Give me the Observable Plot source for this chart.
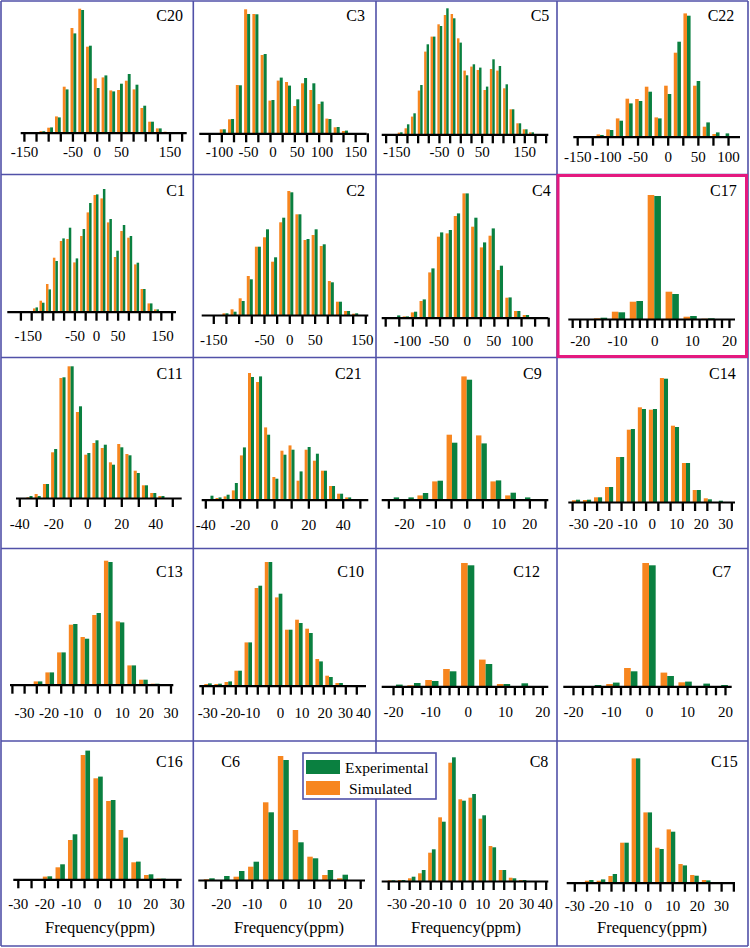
<!DOCTYPE html>
<html lang="en">
<head>
<meta charset="UTF-8">
<title>Chemical shift histograms</title>
<script src="https://cdn.jsdelivr.net/npm/d3@7"></script>
<script src="https://cdn.jsdelivr.net/npm/@observablehq/plot@0.6"></script>
<style>
  body { margin: 0; background: white; }
  #board { position: relative; width: 750px; height: 948px; font-family: "Liberation Serif", serif; }
  .cell { position: absolute; }
  #overlay { position: absolute; left: 0; top: 0; pointer-events: none; }
</style>
</head>
<body>
<div id="board"></div>
<script>
const ORANGE = "#f7861f", GREEN = "#0a8040", GRID = "#5151a8", PINK = "#e4197f";
const FONT = "Liberation Serif";
const LABEL_SIZE = 15;

// ---- data : bin centres (ppm), simulated / experimental frequency, axis ticks & labels ----
// (xxxLabelAt = where the figure actually prints a label, when it is not right on its value)
const c20Bins = [-112,-96,-80,-64,-48,-32,-16,0,16,32,48,64,80,96,112,128,144];
const c20Sim = [1.5,5,16.3,46,104.7,124,86,54.3,55.3,42.3,42.7,52,43.3,24.7,11,4.3,1];
const c20Exp = [1.5,5.3,15.3,43.3,99.3,122.7,87,44.7,57.3,41.3,49,58.7,48,27,11,4.3,0.7];
const c20Ticks = [-150,-125,-100,-75,-50,-25,0,25,50,75,100,125,150,175];
const c20Labels = [-150,-50,0,50,150];

const c3Bins = [-97,-80,-64,-47,-30,-13,3,20,37,54,70,87,104,120,137,154];
const c3Sim = [4,14,48.3,124,119.3,78.3,32.7,52.7,51.3,27.3,50,43.3,29.3,14.7,6,2.3];
const c3Exp = [4,14.3,48,119.3,119,79.3,33.3,55.7,47.7,34,55.3,50,31.7,14.3,6.3,2.7];
const c3Ticks = [-125,-100,-75,-50,-25,0,25,50,75,100,125,150,175,200];
const c3Labels = [-100,-50,0,50,100,150];
const c3LabelAt = [-105,-45,5,55,106,175];

const c5Bins = [-141,-125,-110,-94,-79,-64,-48,-33,-17,-2,13,29,44,60,75,90,106,121,137,152,167];
const c5Sim = [1.7,6,17.7,43.7,82.7,97.7,110,119.3,120.3,96,63.7,67.7,64.3,44.3,65.3,63.7,46,25,11,5,2];
const c5Exp = [2,10,21,49.3,90,97.7,108.3,126,116,91.7,59,70,66.7,47.7,75,68.3,50,25,11,5,2];
const c5Ticks = [-175,-150,-125,-100,-75,-50,-25,0,25,50,75,100,125,150,175,200];
const c5Labels = [-150,-50,0,50,150];

const c22Bins = [-112,-96,-80,-64,-48,-32,-16,0,16,32,48,64,80,96];
const c22Sim = [2.3,7.3,18.3,38,37.7,50,19.3,51,84,123.3,51,10,2.7,0];
const c22Exp = [1.7,6.7,16,33.3,35.7,45,18.3,42.7,95,121,55.7,14.3,4.3,3.3];
const c22Ticks = [-150,-125,-100,-75,-50,-25,0,25,50,75,100];
const c22Labels = [-150,-100,-50,0,50,100];

const c1Bins = [-156,-140,-125,-110,-94,-78,-63,-47,-31,-16,0,16,31,47,62,78,94,109,125,140,156];
const c1Sim = [0.7,3.3,11,27.7,54,70.7,72.7,49.3,75.7,99.3,116.7,113.3,89.3,54.7,80.7,74,47.3,22.7,8.3,2.3,0.7];
const c1Exp = [0.7,4.3,9,22.3,50.7,73.3,84,53.3,82.7,108.7,117.3,122.7,92.7,61,86.7,75.7,49,22.7,8.3,2.3,0.7];
const c1Ticks = [-175,-150,-125,-100,-75,-50,-25,0,25,50,75,100,125,150,175];
const c1Labels = [-150,-50,0,50,150];
const c1LabelAt = [-158,-50,0,50,153];

const c2Bins = [-126,-110,-94,-78,-62,-46,-30,-14,2,18,34,50,66,82,98,114,130];
const c2Sim = [1.7,5.7,16.7,39,68.3,77.7,53.3,92.7,124,100.7,75,80,69,34,13.3,4,1.3];
const c2Exp = [1.7,3.3,14,35.7,68.3,85.7,57.7,97.3,122.7,100.7,76,85.7,70.7,32.7,13.3,4,1.7];
const c2Ticks = [-150,-125,-100,-75,-50,-25,0,25,50,75,100,125,150];
const c2Labels = [-150,-50,0,50,150];
const c2LabelAt = [-150,-50,0,50,143];

const c4Bins = [-128,-112,-97,-81,-65,-49,-33,-18,-2,14,30,46,61,77,93,109];
const c4Sim = [0.7,1.3,5.3,16.7,45.3,81,84.3,101.7,124.3,91,70.3,82,47.7,20,6.7,2.7];
const c4Exp = [2.3,1.3,6,18.3,49.3,85.3,87.7,104.3,124.3,100,75.3,89.3,52,20.3,6.7,2.7];
const c4Ticks = [-150,-125,-100,-75,-50,-25,0,25,50,75,100,125,150];
const c4Labels = [-100,-50,0,50,100];
const c4LabelAt = [-110,-52,0,49,101];

const c17Bins = [-14.4,-9.6,-4.8,0,4.8,9.6,14.4];
const c17Sim = [0.7,7.3,17.3,124,27.3,2.3,0.3];
const c17Exp = [1.3,6.7,18,123,25,3,0.7];
const c17Ticks = [-22,-20,-18,-16,-14,-12,-10,-8,-6,-4,-2,0,2,4,6,8,10,12,14,16,18,20];
const c17Labels = [-20,-10,0,10,20];

const c11Bins = [-34,-29.2,-24.3,-19.5,-14.6,-9.8,-4.9,0,4.8,9.7,14.5,19.4,24.2,29.1,33.9,38.8,43.6];
const c11Sim = [0.7,4,14,45.7,120,131.7,86,43.3,55,50,35.7,54,44,27.3,12.7,5,2];
const c11Exp = [2,2,14,49,120.7,131.7,91.7,45,57.7,53.3,33.3,50.7,42.7,25,12.7,5,2];
const c11Ticks = [-40,-30,-20,-10,0,10,20,30,40,50];
const c11Labels = [-40,-20,0,20,40];

const c21Bins = [-37,-32.3,-27.6,-22.8,-18.1,-13.4,-8.7,-4,0.8,5.5,10.2,14.9,19.6,24.4,29.1,33.8,38.5,43.2];
const c21Sim = [0,1.7,3.3,9.3,44.3,126.7,117.7,72.3,22.7,49,54.3,19,50,39,29,13.7,6,2.3];
const c21Exp = [4,2.3,5,16.7,52.3,122.7,123.3,65,21,45,50,28.3,52.7,46,29,13.7,6,2.3];
const c21Ticks = [-40,-30,-20,-10,0,10,20,30,40,50];
const c21Labels = [-40,-20,0,20,40];

const c9Bins = [-23.3,-18.6,-14,-9.3,-4.7,0,4.7,9.3,14,18.6];
const c9Sim = [0.7,0.7,4.3,18.3,65,123.3,64.3,18.3,4.3,0];
const c9Exp = [2.3,2.3,6.7,19,57,120,56.3,19.3,7,2.3];
const c9Ticks = [-25,-20,-15,-10,-5,0,5,10,15,20,25];
const c9Labels = [-20,-10,0,10,20];

const c14Bins = [-30.9,-26.4,-21.9,-17.4,-12.9,-8.5,-4,0.5,5,9.5,14,18.4,22.9,27.4];
const c14Sim = [1.7,2,4.7,15,45,72.3,94.7,92.3,124,76.3,39,12,3.7,0];
const c14Exp = [2.3,2.3,4.7,15,45,73,93,93,123.3,75,39,12,2.7,1.3];
const c14Ticks = [-32.5,-27.5,-22.5,-17.5,-12.5,-7.5,-2.5,2.5,7.5,12.5,17.5,22.5,27.5,32.5];
const c14Labels = [-30,-20,-10,0,10,20,30];

const c13Bins = [-24.3,-19.5,-14.7,-9.9,-5.1,-0.3,4.5,9.3,14.1,18.9,23.7];
const c13Sim = [3.3,12.3,32.3,60,47.7,69.7,124,63.3,19.3,5,1];
const c13Exp = [3.3,12.3,32.3,60.7,46,71.7,122.7,62.3,19.3,5,1];
const c13Ticks = [-35,-30,-25,-20,-15,-10,-5,0,5,10,15,20,25,30];
const c13Labels = [-30,-20,-10,0,10,20,30];

const c10Bins = [-32.4,-27.8,-23.2,-18.7,-14.1,-9.5,-4.9,-0.3,4.3,8.9,13.5,18.1,22.6,27.2];
const c10Sim = [1.7,1.7,3.7,15,43.3,97.7,123.7,88.3,56,66,57,26.7,10,2.7];
const c10Exp = [2.3,2,4.3,15,43.3,100,123.7,92,56,62.7,52.7,24.3,8.7,2.7];
const c10Ticks = [-35,-30,-25,-20,-15,-10,-5,0,5,10,15,20,25,30,35];
const c10Labels = [-30,-20,-10,0,10,20,30,40];
const c10LabelAt = [-32.7,-22.4,-13.4,0.3,10.1,20.5,29.9,38];

const c12Bins = [-19.2,-14.4,-9.6,-4.8,0,4.8,9.6,14.4];
const c12Sim = [0,1,6.3,17.3,123.3,26.7,2.3,0];
const c12Exp = [1.7,3.3,5.3,15,121,22.3,2.3,3];
const c12Ticks = [-20,-17.5,-15,-12.5,-10,-7.5,-5,-2.5,0,2.5,5,7.5,10,12.5,15,17.5,20];
const c12Labels = [-20,-10,0,10,20];

const c7Bins = [-19,-14.3,-9.5,-4.8,0,4.8,9.5,14.3,19];
const c7Sim = [0.3,0.3,2.3,18.3,123.3,13.7,4,0,0];
const c7Exp = [0.3,1.3,3.7,15,121,10.3,4.7,2.7,1.3];
const c7Ticks = [-20,-17.5,-15,-12.5,-10,-7.5,-5,-2.5,0,2.5,5,7.5,10,12.5,15,17.5,20];
const c7Labels = [-20,-10,0,10,20];

const c16Bins = [-18.8,-14,-9.3,-4.5,0.3,5.1,9.8,14.6,19.4,24.1];
const c16Sim = [2.7,12,39.3,124.3,101,78.3,49.3,17,4.3,0.7];
const c16Exp = [3,15,45,128.7,102.7,79.3,41.7,17.7,5,0.7];
const c16Ticks = [-30,-25,-20,-15,-10,-5,0,5,10,15,20,25,30];
const c16Labels = [-30,-20,-10,0,10,20,30];

const c6Bins = [-23.7,-18.9,-14.1,-9.4,-4.6,0.2,5,9.7,14.5,19.3];
const c6Sim = [0.7,0,3.3,13.3,77.7,124,50,23.3,5,1.7];
const c6Exp = [1.7,4,9,18.3,67.7,120,37.7,21.7,10,5.3];
const c6Ticks = [-25,-20,-15,-10,-5,0,5,10,15,20,25];
const c6Labels = [-20,-10,0,10,20];

const c8Bins = [-33.4,-28.6,-23.8,-19,-14.2,-9.4,-4.6,0.2,5,9.8,14.6,19.4,24.2,29];
const c8Sim = [0.7,1,2.7,7.7,28.3,63.7,118.3,81.7,83.3,62.3,35,11,3.3,1];
const c8Exp = [0.7,1,4.3,11,31.7,59.3,123.7,80.3,87,65.7,33.7,11,2.7,1];
const c8Ticks = [-35,-30,-25,-20,-15,-10,-5,0,5,10,15,20,25,30,35,40];
const c8Labels = [-30,-20,-10,0,10,20,30,40];
const c8LabelAt = [-31,-20,-9.5,0.3,9.8,21,30.7,39.5];

const c15Bins = [-23.9,-19.1,-14.3,-9.5,-4.8,0,4.8,9.5,14.3,19.1,23.9];
const c15Sim = [2,2,6.7,40,124.3,70.3,35,53.3,18.7,7.7,2.7];
const c15Exp = [2.7,3.3,8.7,40,124.3,70.3,33.7,51,17.3,7,2.3];
const c15Ticks = [-30,-25,-20,-15,-10,-5,0,5,10,15,20,25,30,35];
const c15Labels = [-30,-20,-10,0,10,20,30];

const panels = [
  {name: "C20", col: 0, row: 0, bins: c20Bins, sim: c20Sim, exp: c20Exp, ticks: c20Ticks, labels: c20Labels},
  {name: "C3",  col: 1, row: 0, bins: c3Bins,  sim: c3Sim,  exp: c3Exp,  ticks: c3Ticks,  labels: c3Labels, labelAt: c3LabelAt},
  {name: "C5",  col: 2, row: 0, bins: c5Bins,  sim: c5Sim,  exp: c5Exp,  ticks: c5Ticks,  labels: c5Labels},
  {name: "C22", col: 3, row: 0, bins: c22Bins, sim: c22Sim, exp: c22Exp, ticks: c22Ticks, labels: c22Labels},
  {name: "C1",  col: 0, row: 1, bins: c1Bins,  sim: c1Sim,  exp: c1Exp,  ticks: c1Ticks,  labels: c1Labels, labelAt: c1LabelAt},
  {name: "C2",  col: 1, row: 1, bins: c2Bins,  sim: c2Sim,  exp: c2Exp,  ticks: c2Ticks,  labels: c2Labels, labelAt: c2LabelAt},
  {name: "C4",  col: 2, row: 1, bins: c4Bins,  sim: c4Sim,  exp: c4Exp,  ticks: c4Ticks,  labels: c4Labels, labelAt: c4LabelAt},
  {name: "C17", col: 3, row: 1, bins: c17Bins, sim: c17Sim, exp: c17Exp, ticks: c17Ticks, labels: c17Labels},
  {name: "C11", col: 0, row: 2, bins: c11Bins, sim: c11Sim, exp: c11Exp, ticks: c11Ticks, labels: c11Labels},
  {name: "C21", col: 1, row: 2, bins: c21Bins, sim: c21Sim, exp: c21Exp, ticks: c21Ticks, labels: c21Labels},
  {name: "C9",  col: 2, row: 2, bins: c9Bins,  sim: c9Sim,  exp: c9Exp,  ticks: c9Ticks,  labels: c9Labels},
  {name: "C14", col: 3, row: 2, bins: c14Bins, sim: c14Sim, exp: c14Exp, ticks: c14Ticks, labels: c14Labels},
  {name: "C13", col: 0, row: 3, bins: c13Bins, sim: c13Sim, exp: c13Exp, ticks: c13Ticks, labels: c13Labels},
  {name: "C10", col: 1, row: 3, bins: c10Bins, sim: c10Sim, exp: c10Exp, ticks: c10Ticks, labels: c10Labels, labelAt: c10LabelAt},
  {name: "C12", col: 2, row: 3, bins: c12Bins, sim: c12Sim, exp: c12Exp, ticks: c12Ticks, labels: c12Labels},
  {name: "C7",  col: 3, row: 3, bins: c7Bins,  sim: c7Sim,  exp: c7Exp,  ticks: c7Ticks,  labels: c7Labels},
  {name: "C16", col: 0, row: 4, bins: c16Bins, sim: c16Sim, exp: c16Exp, ticks: c16Ticks, labels: c16Labels},
  {name: "C6",  col: 1, row: 4, bins: c6Bins,  sim: c6Sim,  exp: c6Exp,  ticks: c6Ticks,  labels: c6Labels},
  {name: "C8",  col: 2, row: 4, bins: c8Bins,  sim: c8Sim,  exp: c8Exp,  ticks: c8Ticks,  labels: c8Labels, labelAt: c8LabelAt},
  {name: "C15", col: 3, row: 4, bins: c15Bins, sim: c15Sim, exp: c15Exp, ticks: c15Ticks, labels: c15Labels}
];

// ---- layout (px inside each cell): x0 = where 0 ppm sits, k = px per ppm,
// xl/xr = ends of the baseline, by = baseline, lo = label offset, tx/ty = title anchor
const frames = {
  C20: {x0: 96.7, k: 0.4853, xl: 20.7, xr: 186.7, by: 132.7, lo: 24,   tx: 183,   ty: 21},
  C3:  {x0: 77,   k: 0.4867, xl: 6.3,  xr: 173.7, by: 133.3, lo: 23.4, tx: 172,   ty: 21},
  C5:  {x0: 84.3, k: 0.4267, xl: 5.7,  xr: 172.3, by: 134.3, lo: 22.4, tx: 173.3, ty: 21},
  C22: {x0: 110.7,k: 0.6033, xl: 16.3, xr: 183,   by: 136.7, lo: 25,   tx: 177.3, ty: 21},
  C1:  {x0: 96,   k: 0.432,  xl: 7.3,  xr: 176,   by: 136.7, lo: 29,   tx: 185,   ty: 20.7},
  C2:  {x0: 96.3, k: 0.5067, xl: 8.7,  xr: 175.3, by: 140,   lo: 29,   tx: 172,   ty: 20.7},
  C4:  {x0: 90.7, k: 0.5433, xl: 5.7,  xr: 172.3, by: 142.7, lo: 27.3, tx: 174.7, ty: 20.7},
  C17: {x0: 97.3, k: 3.733,  xl: 11.3, xr: 178,   by: 144,   lo: 26,   tx: 179.7, ty: 20.7},
  C11: {x0: 87.3, k: 1.7,    xl: 16,   xr: 181.7, by: 140,   lo: 30,   tx: 182.7, ty: 21},
  C21: {x0: 81,   k: 1.717,  xl: 8.7,  xr: 175.3, by: 141.7, lo: 30,   tx: 168.7, ty: 21},
  C9:  {x0: 90.7, k: 3.133,  xl: 5.7,  xr: 172.3, by: 141.7, lo: 28.3, tx: 165.7, ty: 21},
  C14: {x0: 94.7, k: 2.45,   xl: 11.3, xr: 178,   by: 144,   lo: 26.7, tx: 178.7, ty: 21},
  C13: {x0: 97.3, k: 2.44,   xl: 10,   xr: 173.3, by: 135.7, lo: 32.6, tx: 182.7, ty: 28},
  C10: {x0: 86.3, k: 2.2,    xl: 6.3,  xr: 173,   by: 136.7, lo: 31.6, tx: 171,   ty: 28},
  C12: {x0: 91.7, k: 3.733,  xl: 5.7,  xr: 172.3, by: 137.3, lo: 30,   tx: 164,   ty: 28},
  C7:  {x0: 92,   k: 3.8,    xl: 6.3,  xr: 174.7, by: 137.3, lo: 30,   tx: 174,   ty: 28},
  C16: {x0: 97.3, k: 2.65,   xl: 13.3, xr: 181.7, by: 138.3, lo: 29,   tx: 182.7, ty: 25.7, fx: 100},
  C6:  {x0: 89.7, k: 3.1,    xl: 5.3,  xr: 172,   by: 139,   lo: 28.3, tx: 47,    ty: 25.7, fx: 96},
  C8:  {x0: 85.7, k: 2.1,    xl: 5.7,  xr: 172.3, by: 140,   lo: 27.3, tx: 172.3, ty: 25.7, fx: 90},
  C15: {x0: 90.7, k: 2.447,  xl: 9.7,  xr: 178,   by: 141.7, lo: 27.3, tx: 180.7, ty: 25.7, fx: 95}
};

const colX = [0, 193, 376, 557, 748];
const rowY = [0, 175, 358, 549, 741, 946];

const board = document.querySelector("#board");

for (const p of panels) {
  const f = frames[p.name];
  const W = colX[p.col + 1] - colX[p.col];
  const H = rowY[p.row + 1] - rowY[p.row];
  const n = p.bins.length;
  const half = 0.37 * (p.bins[n - 1] - p.bins[0]) / (n - 1);
  const rows = p.bins.map((c, i) => ({c, sim: p.sim[i], exp: p.exp[i]}));
  const at = p.labelAt || p.labels;
  const labelRows = p.labels.map((v, i) => ({v, at: at[i]}));

  const plot = Plot.plot({
    width: W,
    height: H,
    marginLeft: f.xl,
    marginRight: W - f.xr,
    marginTop: 0,
    marginBottom: H - f.by,
    x: {domain: [(f.xl - f.x0) / f.k, (f.xr - f.x0) / f.k]},
    y: {domain: [0, f.by], axis: null},
    style: {fontFamily: FONT, fontSize: LABEL_SIZE + "px", color: "black", overflow: "visible", background: "transparent"},
    marks: [
      // orange (simulated) on the left half of each bin, green (experimental) on the right
      Plot.rect(rows, {x1: d => d.c - half, x2: d => d.c, y1: 0, y2: "sim", fill: ORANGE}),
      Plot.rect(rows, {x1: d => d.c, x2: d => d.c + half, y1: 0, y2: "exp", fill: GREEN}),
      Plot.ruleY([0], {stroke: "black", strokeWidth: 2.2}),
      Plot.axisX({ticks: p.ticks, tickSize: 9, strokeWidth: 2.3, stroke: "black", fill: "none", label: null}),
      Plot.text(labelRows, {x: "at", text: d => String(d.v), frameAnchor: "bottom", lineAnchor: "top",
                            dy: f.lo - 0.71 * LABEL_SIZE, fontSize: LABEL_SIZE, fill: "black"})
    ]
  });

  const cell = document.createElement("div");
  cell.className = "cell";
  cell.style.left = colX[p.col] + "px";
  cell.style.top = rowY[p.row] + "px";
  cell.append(plot);
  board.append(cell);
}

// ---- frame lines, titles, legend ----
const svg = d3.select("#board").append("svg")
  .attr("id", "overlay")
  .attr("width", 750)
  .attr("height", 948)
  .style("font-family", FONT);

const vLines = [1, 193.3, 376, 557, 748];
const hLines = [1, 174.5, 357.5, 548.5, 741, 946];
vLines.forEach(x => svg.append("line").attr("x1", x).attr("x2", x).attr("y1", 1).attr("y2", 946)
  .attr("stroke", GRID).attr("stroke-width", 1.6));
hLines.forEach(y => svg.append("line").attr("x1", 1).attr("x2", 748).attr("y1", y).attr("y2", y)
  .attr("stroke", GRID).attr("stroke-width", 1.6));

// highlighted cell
svg.append("rect").attr("x", 558).attr("y", 175.5).attr("width", 188.5).attr("height", 181)
  .attr("fill", "none").attr("stroke", PINK).attr("stroke-width", 3);

for (const p of panels) {
  const f = frames[p.name];
  svg.append("text")
    .attr("x", colX[p.col] + f.tx)
    .attr("y", rowY[p.row] + f.ty)
    .attr("text-anchor", "end")
    .attr("font-size", 16)
    .text(p.name);
  if (f.fx !== undefined) {
    svg.append("text")
      .attr("x", colX[p.col] + f.fx)
      .attr("y", rowY[p.row] + 192)
      .attr("text-anchor", "middle")
      .attr("font-size", 16.5)
      .text("Frequency(ppm)");
  }
}

// legend
const leg = svg.append("g");
leg.append("rect").attr("x", 303).attr("y", 753).attr("width", 133).attr("height", 46)
  .attr("fill", "white").attr("stroke", GRID).attr("stroke-width", 1.6);
leg.append("rect").attr("x", 306).attr("y", 760).attr("width", 34).attr("height", 14).attr("fill", GREEN);
leg.append("rect").attr("x", 306).attr("y", 781).attr("width", 34).attr("height", 14).attr("fill", ORANGE);
leg.append("text").attr("x", 345).attr("y", 773).attr("font-size", 15.5).text("Experimental");
leg.append("text").attr("x", 349).attr("y", 794).attr("font-size", 15.5).text("Simulated");
</script>
</body>
</html>
